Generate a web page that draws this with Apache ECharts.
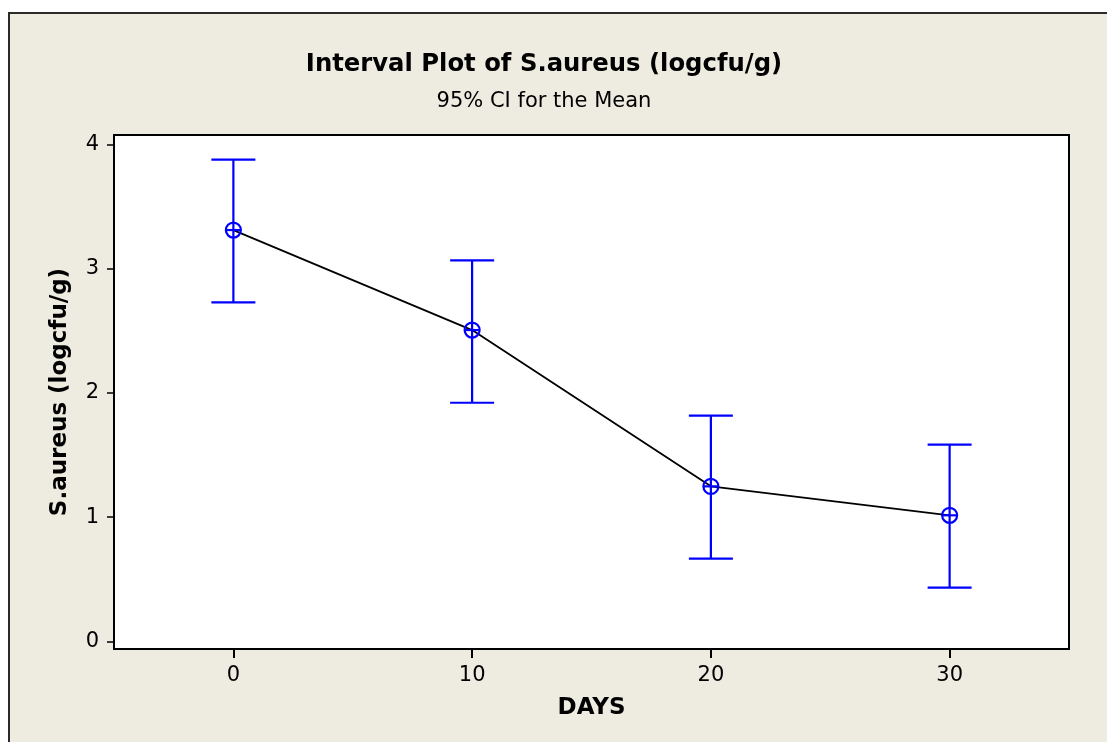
<!DOCTYPE html>
<html>
<head>
<meta charset="utf-8">
<script src="https://cdn.jsdelivr.net/npm/echarts@6/dist/echarts.min.js"></script>
<style>
  html, body { margin: 0; padding: 0; background: #ffffff; }
  #chart { width: 1107px; height: 742px; }
</style>
</head>
<body>
<div id="chart"></div>
<script>
// ---- data ----
const days = [0, 10, 20, 30];
const means = [3.31, 2.505, 1.247, 1.014];
const upper = [3.876, 3.066, 1.816, 1.583];
const lower = [2.728, 1.920, 0.665, 0.432];
const xTicks = [0, 10, 20, 30];
const yTicks = [0, 1, 2, 3, 4];

const titleText = 'Interval Plot of S.aureus (logcfu/g)';
const subText = '95% CI for the Mean';
const xName = 'DAYS';
const yName = 'S.aureus (logcfu/g)';

const FONT = 'DejaVu Sans';
const BLUE = '#0000ff';
const BG = '#eeebe1';

const chart = echarts.init(document.getElementById('chart'));

const meanData = days.map((d, i) => [d, means[i]]);
const barData = days.map((d, i) => [d, means[i], lower[i], upper[i]]);

const option = {
  backgroundColor: '#ffffff',
  animation: false,
  graphic: [
    {
      type: 'rect', z: -100, silent: true,
      shape: { x: 9, y: 13, width: 1200, height: 800 },
      style: { fill: BG, stroke: '#2a2a2a', lineWidth: 2 }
    },
    {
      type: 'text', z: 10, x: 544, y: 53,
      style: { text: titleText, fontFamily: FONT, fontWeight: 'bold', fontSize: 24.3,
               fill: '#000', textAlign: 'center', textVerticalAlign: 'top' }
    },
    {
      type: 'text', z: 10, x: 544, y: 91,
      style: { text: subText, fontFamily: FONT, fontSize: 21,
               fill: '#000', textAlign: 'center', textVerticalAlign: 'top' }
    }
  ],
  grid: {
    left: 114, top: 135, right: 38, bottom: 93,
    show: true, backgroundColor: '#ffffff', borderColor: '#000', borderWidth: 2
  },
  xAxis: {
    type: 'value', min: -5, max: 35,
    name: xName, nameLocation: 'middle', nameGap: 48,
    nameTextStyle: { fontFamily: FONT, fontWeight: 'bold', fontSize: 23, color: '#000' },
    axisLine: { show: false, onZero: false },
    splitLine: { show: false },
    axisTick: { show: true, inside: false, length: 9, customValues: xTicks,
                lineStyle: { color: '#000', width: 2 } },
    axisLabel: { show: true, margin: 16, customValues: xTicks,
                 fontFamily: FONT, fontSize: 21, color: '#000' }
  },
  yAxis: {
    type: 'value', min: -0.062, max: 4.075,
    name: yName, nameLocation: 'middle', nameGap: 42, nameRotate: 90,
    nameTextStyle: { fontFamily: FONT, fontWeight: 'bold', fontSize: 23, color: '#000' },
    axisLine: { show: false, onZero: false },
    splitLine: { show: false },
    axisTick: { show: true, inside: false, length: 7, customValues: yTicks,
                lineStyle: { color: '#000', width: 1.5 } },
    axisLabel: { show: true, margin: 15, customValues: yTicks,
                 fontFamily: FONT, fontSize: 21, color: '#000' }
  },
  series: [
    {
      type: 'line', data: meanData, symbol: 'none', z: 2,
      lineStyle: { color: '#000', width: 1.8 }
    },
    {
      type: 'custom', z: 3,
      data: barData,
      renderItem: function (params, api) {
        const x = api.value(0);
        const m = api.coord([x, api.value(1)]);
        const lo = api.coord([x, api.value(2)]);
        const hi = api.coord([x, api.value(3)]);
        const cap = 22, r = 7.5;
        const st = { stroke: BLUE, lineWidth: 2.2, fill: null };
        return {
          type: 'group',
          children: [
            { type: 'line', shape: { x1: hi[0], y1: hi[1], x2: lo[0], y2: lo[1] }, style: st },
            { type: 'line', shape: { x1: hi[0] - cap, y1: hi[1], x2: hi[0] + cap, y2: hi[1] }, style: st },
            { type: 'line', shape: { x1: lo[0] - cap, y1: lo[1], x2: lo[0] + cap, y2: lo[1] }, style: st },
            { type: 'circle', shape: { cx: m[0], cy: m[1], r: r }, style: { stroke: BLUE, lineWidth: 2.2, fill: 'none' } },
            { type: 'line', shape: { x1: m[0] - r, y1: m[1], x2: m[0] + r, y2: m[1] }, style: st }
          ]
        };
      }
    }
  ]
};
chart.setOption(option);
</script>
</body>
</html>
